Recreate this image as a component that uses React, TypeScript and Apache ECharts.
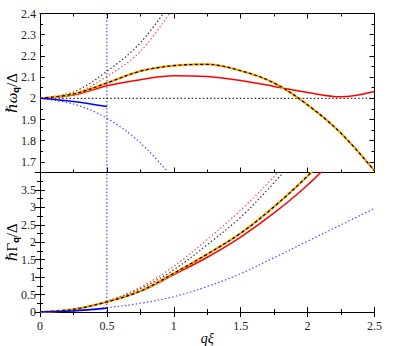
import React, { useEffect, useRef } from "react";
import * as echarts from "echarts";

// ---- data ----
const Q = [0, 0.25, 0.5, 0.75, 1.0, 1.25, 1.5, 1.75, 2.0, 2.25, 2.5];
const Q_SHORT = [0, 0.25, 0.5];
const Q_DOT = [0, 0.25, 0.5, 0.75, 1.0];
const Q_GAMMA = [0, 0.25, 0.5, 0.75, 1.0, 1.25, 1.5, 1.75, 2.0, 2.25];
const Q_GAMMA_DOT = [0, 0.25, 0.5, 0.75, 1.0, 1.25, 1.5, 1.75, 2.0];

// top panel: hbar omega_q / Delta
const omegaFull = [2.0, 2.02, 2.072, 2.128, 2.154, 2.16, 2.13, 2.072, 1.969, 1.835, 1.658];
const omegaRed = [2.0, 2.015, 2.059, 2.088, 2.106, 2.103, 2.084, 2.056, 2.027, 2.007, 2.032];
const omegaBlue = [2.0, 1.985, 1.961];
const omegaBlueDot = [2.0, 1.973, 1.906, 1.79, 1.62];
const omegaBlackDot = [2.0, 2.03, 2.127, 2.262, 2.47];
const omegaRedDot = [2.0, 2.02, 2.103, 2.221, 2.43];
const OMEGA_REF = 2.0;

// bottom panel: hbar Gamma_q / Delta
const gammaFull = [0, 0.075, 0.29, 0.6, 1.11, 1.66, 2.26, 3.02, 3.9, 4.9];
const gammaRed = [0, 0.075, 0.29, 0.59, 1.07, 1.57, 2.15, 2.84, 3.64, 4.6];
const gammaBlue = [0, 0.03, 0.11];
const gammaBlueDot = [0, 0.035, 0.125, 0.25, 0.44, 0.73, 1.1, 1.56, 2.03, 2.5, 2.97];
const gammaBlackDot = [0, 0.08, 0.3, 0.67, 1.21, 1.93, 2.72, 3.71, 4.8];
const gammaRedDot = [0, 0.08, 0.31, 0.71, 1.31, 2.08, 2.92, 3.89, 5.0];

const Q_CUT = 0.5;

// ticks
const X_MIN = 0, X_MAX = 2.5, X_STEP = 0.5;
const TOP_MIN = 1.65, TOP_MAX = 2.4;
const TOP_LABELS = [1.7, 1.8, 1.9, 2.0, 2.1, 2.2, 2.3, 2.4];
const BOT_MIN = 0, BOT_MAX = 4, BOT_STEP = 0.5;

const FONT = "'Liberation Serif', 'DejaVu Serif', serif";
const RED = "#ff0000";
const BLUE = "#0000ff";
const ORANGE = "#ffa500";

const zip = (xs: number[], ys: number[]) => xs.map((x, i) => [x, ys[i]]);

export default function App() {
  const ref = useRef<HTMLDivElement>(null);
  useEffect(() => {
    if (!ref.current) return;
    const chart = echarts.init(ref.current, undefined, { renderer: "svg" });

    const axisLine = { show: true, lineStyle: { color: "#000", width: 1 } };
    const xAx = (grid: number, pos: "top" | "bottom", labels: boolean, name?: string) => ({
      type: "value",
      gridIndex: grid,
      position: pos,
      min: X_MIN,
      max: X_MAX,
      interval: X_STEP,
      axisLine,
      axisTick: { show: true, inside: true, length: 5, lineStyle: { color: "#000" } },
      minorTick: { show: true, splitNumber: 2, length: 3, lineStyle: { color: "#000" } },
      splitLine: { show: false },
      axisLabel: {
        show: labels,
        fontFamily: FONT,
        fontSize: 12,
        color: "#222",
        margin: 8,
        formatter: (v: number) => String(v),
      },
      name: name,
      nameLocation: "middle",
      nameGap: 19,
      nameMoveOverlap: false,
      nameTextStyle: { fontFamily: FONT, fontSize: 14, fontStyle: "italic", color: "#000" },
    });

    const richName = {
      a: { fontFamily: FONT, fontSize: 15, fontStyle: "italic", color: "#000", lineHeight: 16 },
      g: { fontFamily: FONT, fontSize: 15, color: "#000", lineHeight: 16 },
      b: { fontFamily: "DejaVu Sans", fontSize: 8, fontWeight: "bold", color: "#000", verticalAlign: "bottom", lineHeight: 8, padding: [6, 0, 0, 0] },
      c: { fontFamily: FONT, fontSize: 15, color: "#000", lineHeight: 16 },
    };

    const topMajor = (pos: "left" | "right", labels: boolean) => ({
      type: "value",
      gridIndex: 0,
      position: pos,
      min: TOP_MIN,
      max: TOP_MAX,
      axisLine,
      axisTick: { show: true, inside: true, length: 5, customValues: TOP_LABELS, lineStyle: { color: "#000" } },
      splitLine: { show: false },
      axisLabel: {
        show: labels,
        customValues: TOP_LABELS,
        fontFamily: FONT,
        fontSize: 12,
        color: "#222",
        margin: 4,
        formatter: (v: number) => String(Math.round(v * 10) / 10),
      },
      name: labels ? "{a|ℏω}{b|q}{c|/Δ}" : undefined,
      nameLocation: "middle",
      nameGap: 20,
      nameMoveOverlap: false,
      nameTextStyle: { rich: richName },
    });
    const topMinor = (pos: "left" | "right") => ({
      type: "value",
      gridIndex: 0,
      position: pos,
      min: TOP_MIN,
      max: TOP_MAX,
      interval: 0.05,
      axisLine: { show: false },
      axisTick: { show: true, inside: true, length: 3, lineStyle: { color: "#000" } },
      splitLine: { show: false },
      axisLabel: { show: false },
    });
    const botAx = (pos: "left" | "right", labels: boolean) => ({
      type: "value",
      gridIndex: 1,
      position: pos,
      min: BOT_MIN,
      max: BOT_MAX,
      interval: BOT_STEP,
      axisLine,
      axisTick: { show: true, inside: true, length: 5, lineStyle: { color: "#000" } },
      minorTick: { show: true, splitNumber: 2, length: 3, lineStyle: { color: "#000" } },
      splitLine: { show: false },
      axisLabel: {
        show: labels,
        fontFamily: FONT,
        fontSize: 12,
        color: "#222",
        margin: 4,
        formatter: (v: number) => (v >= BOT_MAX ? "" : String(v)),
      },
      name: labels ? "{a|ℏ}{g|Γ}{b|q}{c|/Δ}" : undefined,
      nameLocation: "middle",
      nameGap: 20,
      nameMoveOverlap: false,
      nameTextStyle: { rich: richName },
    });

    const line = (
      data: number[][],
      color: string,
      width: number,
      type: any,
      xi: number,
      yi: number,
      z = 2,
      extra: any = {}
    ) => ({
      type: "line",
      xAxisIndex: xi,
      yAxisIndex: yi,
      data,
      smooth: 0.35,
      symbol: "none",
      clip: true,
      z,
      lineStyle: { color, width, type },
      ...extra,
    });

    const DOT = [1.5, 2.2];
    const VDOT = [1.5, 2];

    const option: any = {
      animation: false,
      grid: [
        { left: 40, top: 13.5, width: 334.5, height: 159, outerBoundsMode: "none", containLabel: false },
        { left: 40, top: 172.5, width: 334.5, height: 139.5, outerBoundsMode: "none", containLabel: false },
      ],
      xAxis: [
        xAx(0, "bottom", false),
        xAx(0, "top", false),
        xAx(1, "bottom", true, "qξ"),
        xAx(1, "top", false),
      ],
      yAxis: [
        topMajor("left", true),
        topMinor("left"),
        topMajor("right", false),
        topMinor("right"),
        botAx("left", true),
        botAx("right", false),
      ],
      series: [
        // top panel
        line(zip([Q_CUT, Q_CUT], [TOP_MIN, TOP_MAX]), BLUE, 1, VDOT, 0, 0, 2, { smooth: false, lineStyle: { color: BLUE, width: 1, type: VDOT, opacity: 0.85 } }),
        line(zip([X_MIN, X_MAX], [OMEGA_REF, OMEGA_REF]), "#000", 1, DOT, 0, 0, 2, { smooth: false }),
        line(zip(Q_DOT, omegaBlueDot), BLUE, 1.2, DOT, 0, 0, 3, { lineStyle: { color: BLUE, width: 1.2, type: DOT, opacity: 0.7 } }),
        line(zip(Q_DOT, omegaBlackDot), "#000", 1.2, DOT, 0, 0, 3, { lineStyle: { color: "#000", width: 1.2, type: DOT, opacity: 0.8 } }),
        line(zip(Q_DOT, omegaRedDot), RED, 1.2, DOT, 0, 0, 3, { lineStyle: { color: RED, width: 1.2, type: DOT, opacity: 0.7 } }),
        line(zip(Q, omegaRed), RED, 1.5, "solid", 0, 0, 4),
        line(zip(Q, omegaFull), ORANGE, 2.2, "solid", 0, 0, 5),
        line(zip(Q, omegaFull), "#000", 1.2, [3, 2.5], 0, 0, 6),
        line(zip(Q_SHORT, omegaBlue), BLUE, 1.6, "solid", 0, 0, 6),
        // bottom panel
        line(zip([Q_CUT, Q_CUT], [BOT_MIN, BOT_MAX]), BLUE, 1, VDOT, 2, 4, 2, { smooth: false, lineStyle: { color: BLUE, width: 1, type: VDOT, opacity: 0.85 } }),
        line(zip(Q, gammaBlueDot), BLUE, 1.2, DOT, 2, 4, 3, { lineStyle: { color: BLUE, width: 1.2, type: DOT, opacity: 0.7 } }),
        line(zip(Q_GAMMA_DOT, gammaBlackDot), "#000", 1.2, DOT, 2, 4, 3, { lineStyle: { color: "#000", width: 1.2, type: DOT, opacity: 0.8 } }),
        line(zip(Q_GAMMA_DOT, gammaRedDot), RED, 1.2, DOT, 2, 4, 3, { lineStyle: { color: RED, width: 1.2, type: DOT, opacity: 0.7 } }),
        line(zip(Q_GAMMA, gammaRed), RED, 1.5, "solid", 2, 4, 4),
        line(zip(Q_GAMMA, gammaFull), ORANGE, 2.2, "solid", 2, 4, 5),
        line(zip(Q_GAMMA, gammaFull), "#000", 1.2, [3, 2.5], 2, 4, 6),
        line(zip(Q_SHORT, gammaBlue), BLUE, 1.6, "solid", 2, 4, 6),
      ],
    };
    chart.setOption(option);
    return () => chart.dispose();
  }, []);
  return <div ref={ref} style={{ width: 415, height: 346, position: "absolute", left: 0, top: 0 }} />;
}
